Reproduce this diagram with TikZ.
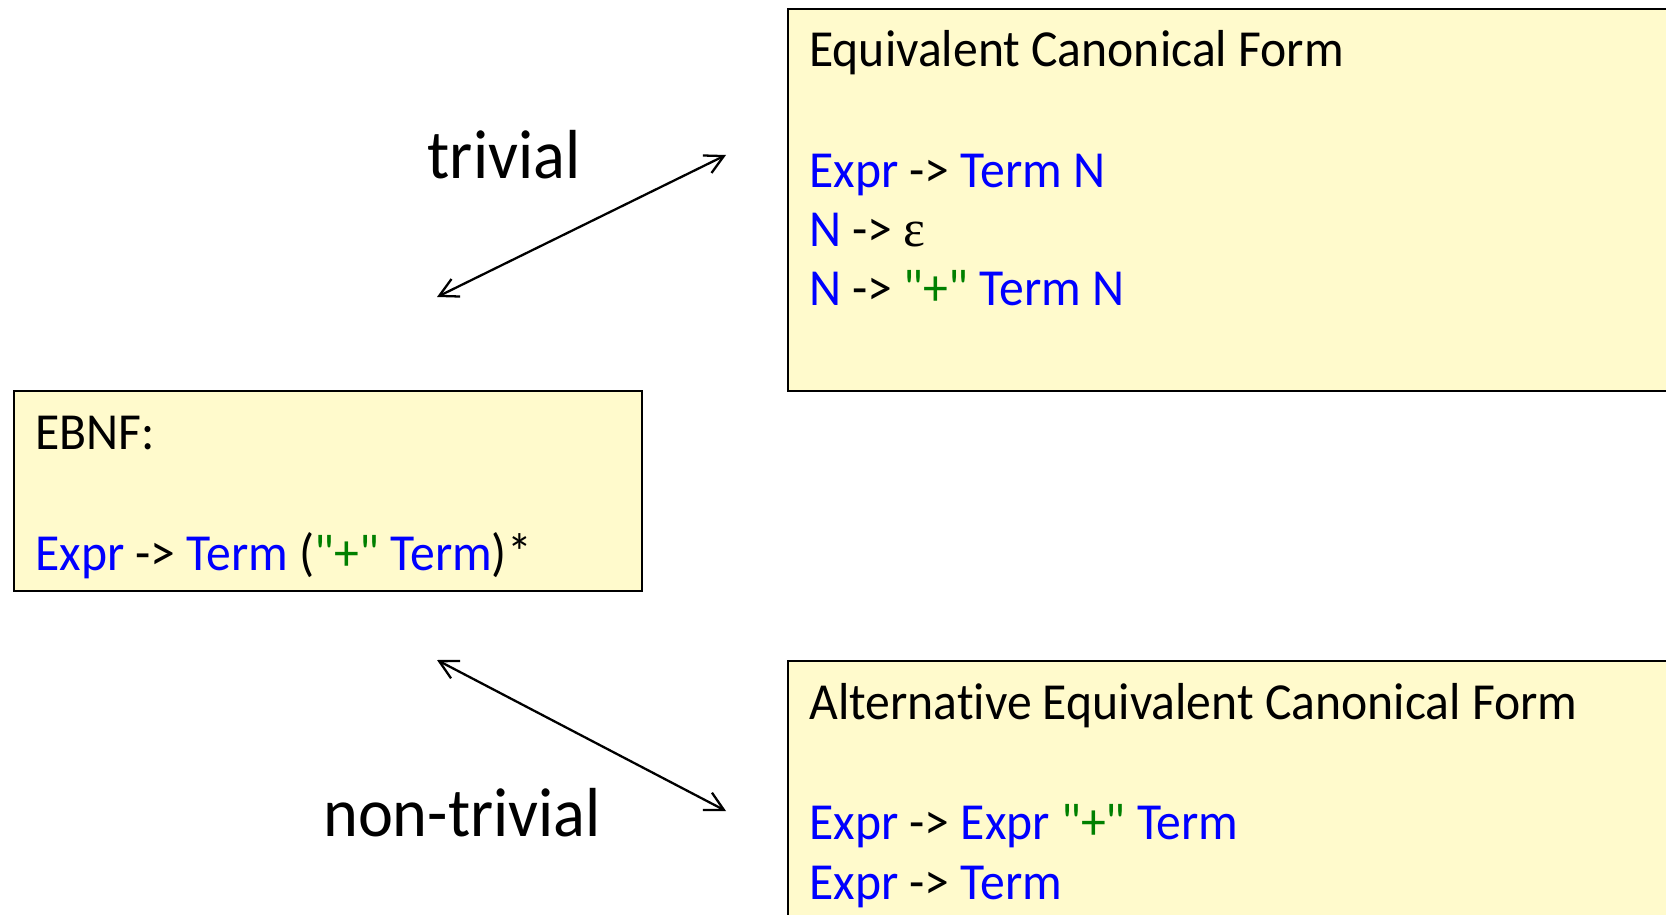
\documentclass[tikz,border=0pt]{standalone}
\usepackage{fontspec}
\setmainfont{Carlito}[Ligatures={TeXOff,NoCommon},FakeStretch=0.955]
\newfontfamily\epsfont{Liberation Serif}
\usetikzlibrary{arrows.meta}
\definecolor{boxyellow}{RGB}{255,250,204}
\definecolor{ntblue}{RGB}{0,0,255}
\definecolor{tmgreen}{RGB}{0,128,0}
\newcommand{\nt}[1]{\textcolor{ntblue}{#1}}
\newcommand{\tm}[1]{\textcolor{tmgreen}{#1}}

\begin{document}
\begin{tikzpicture}[x=0.02cm,y=-0.02cm,
    gbox/.style={rectangle,draw,line width=1.1pt,fill=boxyellow,anchor=north west,inner sep=0pt},
    gline/.style={anchor=base west,inner sep=0pt,font=\fontsize{29.6}{35}\selectfont},
    biglabel/.style={anchor=base,inner sep=0pt,font=\fontsize{39.5}{47}\selectfont},
    conn/.style={{Straight Barb[length=3.7mm,width=3.9mm]}-{Straight Barb[length=3.7mm,width=3.9mm]},line width=1.3pt}]
        \useasboundingbox (0,0) rectangle (1666,915);

        \node at (787,8.5) [gbox,minimum width=18.3cm,minimum height=7.63cm] (canon) {};
        \node at (809,67) [gline] (c100) {Equivalent Canonical Form};
        \node at (809,188) [gline] (c110) {\nt{Expr} -> \nt{Term N}};
        \node at (809,246.5) [gline] (c120) {\nt{N} -> {\epsfont ε}};
        \node at (809,306) [gline] (c130) {\nt{N} -> \tm{"+"} \nt{Term N}};

        \node at (12.75,390) [gbox,minimum width=12.56cm,minimum height=4cm] (ebnf) {};
        \node at (35,449.5) [gline] (c200) {EBNF:};
        \node at (35,570.5) [gline] (c210) {\nt{Expr} -> \nt{Term} (\tm{"+"} \nt{Term})*};

        \node at (787,660) [gbox,minimum width=18.3cm,minimum height=6cm] (alt) {};
        \node at (809,719) [gline] (c300) {Alternative Equivalent Canonical Form};
        \node at (809,839.5) [gline] (c310) {\nt{Expr} -> \nt{Expr} \tm{"+"} \nt{Term}};
        \node at (809,899) [gline] (c320) {\nt{Expr} -> \nt{Term}};

        \node at (504,178.5) [biglabel] (triv) {trivial};
        \node at (462,836) [biglabel] (ntriv) {non-trivial};

        \coordinate (t1) at (437,297);
        \coordinate (t2) at (726,155);
        \coordinate (n1) at (437,660);
        \coordinate (n2) at (726,811);
        \draw[conn] (t1)--(t2);
        \draw[conn] (n1)--(n2);
\end{tikzpicture}
\end{document}
